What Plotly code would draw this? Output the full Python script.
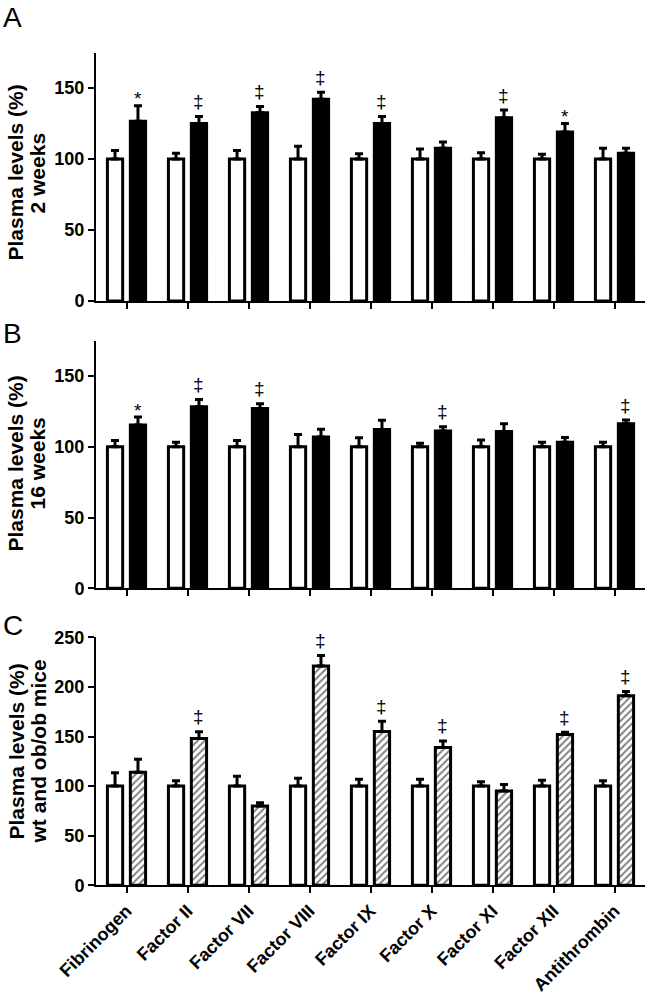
import plotly.graph_objects as go

categories = ["Fibrinogen", "Factor II", "Factor VII", "Factor VIII", "Factor IX",
              "Factor X", "Factor XI", "Factor XII", "Antithrombin"]

# Panel A: 2 weeks
a_wt = [100, 100, 100, 100, 100, 100, 100, 100, 100]
a_wt_err = [6, 4, 6, 9, 3.7, 7, 4.4, 3.3, 7.5]
a_ob = [126.5, 125, 132.5, 142, 125, 107.5, 129, 119, 104]
a_ob_err = [11, 5, 4.5, 5, 5, 4.5, 5.5, 6, 3.5]
a_sig = ["*", "‡", "‡", "‡", "‡", "", "‡", "*", ""]

# Panel B: 16 weeks
b_wt = [100, 100, 100, 100, 100, 100, 100, 100, 100]
b_wt_err = [4.5, 3.3, 4.5, 8.7, 6.4, 2.6, 4.8, 3.3, 3.3]
b_ob = [115.5, 128.4, 127, 107, 112.3, 111.2, 110.8, 103.3, 116.3]
b_ob_err = [5.5, 5, 3.5, 5.5, 6.5, 3, 5.5, 3.3, 2.6]
b_sig = ["*", "‡", "‡", "", "", "‡", "", "", "‡"]

# Panel C: wt and ob/ob mice
c_wt = [100, 100, 100, 100, 100, 100, 100, 100, 100]
c_wt_err = [13.5, 5.5, 10, 8, 7, 7, 4.5, 6, 5.5]
c_ob = [114, 148, 80, 221, 155, 138.8, 95, 152, 191]
c_ob_err = [13, 6.7, 3.3, 10.7, 10.4, 6.7, 6.7, 2.2, 4.4]
c_sig = ["", "‡", "", "‡", "‡", "‡", "", "‡", "‡"]

FONT = "Liberation Sans, Arial, sans-serif"
xs = list(range(len(categories)))
BW = 0.25
OFF = 0.188

W, H = 648, 992
# plot area in pixels: x 96..645, y 40..892
PL, PW, PB, PH = 96, 549, 892, 852


def px(xp):
    return (xp - PL) / PW


def py(yp):
    return (PB - yp) / PH


fig = go.Figure()

panels = [
    (a_wt, a_wt_err, a_ob, a_ob_err, a_sig, "x", "y", "solid"),
    (b_wt, b_wt_err, b_ob, b_ob_err, b_sig, "x2", "y2", "solid"),
    (c_wt, c_wt_err, c_ob, c_ob_err, c_sig, "x3", "y3", "hatch"),
]

annotations = []
for wt, wte, ob, obe, sig, xa, ya, style in panels:
    fig.add_trace(go.Bar(
        x=xs, y=wt, width=BW, offset=-OFF - BW / 2, xaxis=xa, yaxis=ya,
        marker=dict(color="white", line=dict(color="black", width=3)),
        error_y=dict(type="data", array=wte, arrayminus=[0] * len(wte), symmetric=False,
                     color="black", thickness=3, width=4),
        showlegend=False,
    ))
    if style == "solid":
        mk = dict(color="black", line=dict(color="black", width=3))
    else:
        mk = dict(color="white", line=dict(color="black", width=3),
                  pattern=dict(shape="/", fgcolor="black", bgcolor="white",
                               size=5, solidity=0.4))
    fig.add_trace(go.Bar(
        x=xs, y=ob, width=BW, offset=OFF - BW / 2, xaxis=xa, yaxis=ya,
        marker=mk,
        error_y=dict(type="data", array=obe, arrayminus=[0] * len(obe), symmetric=False,
                     color="black", thickness=3, width=4),
        showlegend=False,
    ))
    for i, s in enumerate(sig):
        if s:
            annotations.append(dict(
                x=xs[i] + OFF, y=ob[i] + obe[i], xref=xa, yref=ya, text=s,
                showarrow=False, yanchor="middle",
                yshift=15 if s == "‡" else 7,
                font=dict(family=FONT, size=19, color="black"),
            ))

# y-axis titles: two lines each, placed separately
titles = [("Plasma levels (%)", "2 weeks", 173),
          ("Plasma levels (%)", "16 weeks", 464),
          ("Plasma levels (%)", "wt and ob/ob mice", 752)]
for l1, l2, yc in titles:
    for txt, xc in [(l1, 15.5), (l2, 37.5)]:
        annotations.append(dict(
            text=txt, textangle=-90, xref="paper", yref="paper",
            x=px(xc), y=py(yc), xanchor="center", yanchor="middle", showarrow=False,
            font=dict(family=FONT, size=21, color="black", weight="bold"),
        ))

for lab, ypix in [("A", 17), ("B", 333), ("C", 625)]:
    annotations.append(dict(
        text=lab, xref="paper", yref="paper", x=px(1), y=py(ypix),
        xanchor="left", yanchor="middle", showarrow=False,
        font=dict(family=FONT, size=28, color="black"),
    ))

xaxis_common = dict(
    range=[-0.5, 8.5], domain=[0, 1], showline=True, linecolor="black", linewidth=2,
    ticks="outside", ticklen=6, tickwidth=2, tickcolor="black",
    tickvals=xs, ticktext=categories, showgrid=False, zeroline=False,
    tickfont=dict(family=FONT, size=18, color="black", weight="bold"),
    automargin=False,
)
yaxis_common = dict(
    showline=True, linecolor="black", linewidth=2, ticks="outside", ticklen=6,
    tickwidth=2, tickcolor="black", showgrid=False, zeroline=False, dtick=50,
    tickfont=dict(family=FONT, size=18, color="black", weight="bold"),
    automargin=False,
)

fig.update_layout(
    width=W, height=H,
    margin=dict(l=PL, r=W - PL - PW, t=PB - PH, b=H - PB),
    paper_bgcolor="white", plot_bgcolor="white",
    barmode="overlay",
    xaxis=dict(**xaxis_common, anchor="y", showticklabels=False),
    xaxis2=dict(**xaxis_common, anchor="y2", showticklabels=False),
    xaxis3=dict(**xaxis_common, anchor="y3", tickangle=-45),
    yaxis=dict(**yaxis_common, range=[0, 175], domain=[py(301), py(52.5)], anchor="x"),
    yaxis2=dict(**yaxis_common, range=[0, 175], domain=[py(588.3), py(340.7)], anchor="x2"),
    yaxis3=dict(**yaxis_common, range=[0, 250], domain=[py(885.3), py(637.3)], anchor="x3"),
    annotations=annotations,
)

fig.write_html("out.html",
               config={"displayModeBar": False, "staticPlot": True},
               post_script="document.body.style.margin='0';document.body.style.overflow='hidden';")
